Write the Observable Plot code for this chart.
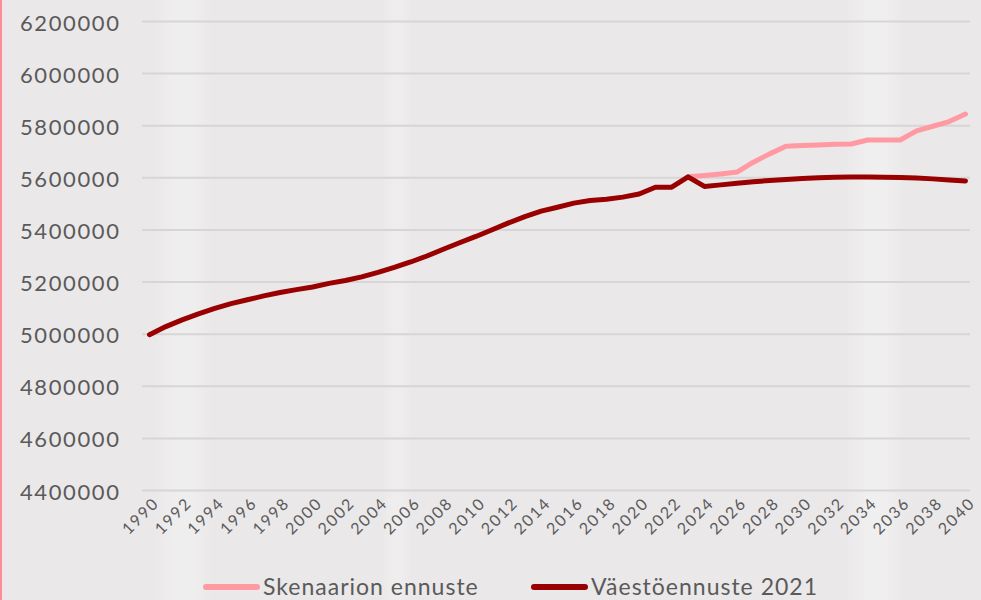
<!DOCTYPE html>
<html>
<head>
<meta charset="utf-8">
<script src="https://cdn.jsdelivr.net/npm/d3@7"></script>
<script src="https://cdn.jsdelivr.net/npm/@observablehq/plot@0.6"></script>
<style>
  html, body { margin: 0; padding: 0; }
  body {
    width: 981px; height: 600px; overflow: hidden; position: relative;
    font-family: Lato, "Open Sans", sans-serif;
    background:
      linear-gradient(90deg,
        rgba(255,255,255,0) 0px, rgba(255,255,255,0) 155px,
        rgba(255,255,255,0.25) 172px, rgba(255,255,255,0.25) 195px,
        rgba(255,255,255,0) 212px, rgba(255,255,255,0) 382px,
        rgba(255,255,255,0.22) 392px, rgba(255,255,255,0.22) 402px,
        rgba(255,255,255,0) 412px, rgba(255,255,255,0) 845px,
        rgba(255,255,255,0.3) 868px, rgba(255,255,255,0.3) 885px,
        rgba(255,255,255,0) 905px),
      #eae8e9;
  }
  #edge { position: absolute; left: 0; top: 0; width: 2px; height: 600px; background: #ff8d97; }
  #legend {
    position: absolute; left: 0; top: 555px; width: 981px; height: 45px;
    font-size: 23px; color: #5a5a5a; letter-spacing: 1px;
  }
  .item { position: absolute; top: 20px; display: flex; align-items: center; line-height: 1; }
  .item svg { margin-right: 3px; }
  g[aria-label="y-axis tick label"] text { letter-spacing: 1.6px; }
  g[aria-label="x-axis tick label"] text { letter-spacing: 1.8px; }
</style>
</head>
<body>
<div id="edge"></div>
<div id="chart"></div>
<div id="legend"></div>
<script>
const years = [1990,1991,1992,1993,1994,1995,1996,1997,1998,1999,2000,2001,2002,2003,2004,2005,2006,2007,2008,2009,2010,2011,2012,2013,2014,2015,2016,2017,2018,2019,2020,2021,2022,2023,2024,2025,2026,2027,2028,2029,2030,2031,2032,2033,2034,2035,2036,2037,2038,2039,2040];

// Väestöennuste 2021 (dark red), 1990–2040
const vaestoennuste = [4998000,5029000,5055000,5078000,5099000,5117000,5132000,5147000,5160000,5171000,5181000,5195000,5206000,5220000,5237000,5256000,5277000,5300000,5326000,5351000,5375000,5401000,5427000,5451000,5472000,5487000,5503000,5513000,5518000,5526000,5538000,5564000,5564000,5604000,5567000,5573000,5579000,5585000,5590000,5594000,5597000,5600000,5602000,5603000,5603000,5602000,5601000,5599000,5596000,5592000,5588000];

// Skenaarion ennuste (pink), 2023–2040
const skenaarioYears = [2023,2024,2025,2026,2027,2028,2029,2030,2031,2032,2033,2034,2035,2036,2037,2038,2039,2040];
const skenaario = [5604000,5609000,5615000,5622000,5660000,5692000,5721000,5724000,5726000,5729000,5730000,5745000,5745000,5745000,5780000,5798000,5816000,5845000];

const yTicks = [4400000,4600000,4800000,5000000,5200000,5400000,5600000,5800000,6000000,6200000];
const xTicks = [1990,1992,1994,1996,1998,2000,2002,2004,2006,2008,2010,2012,2014,2016,2018,2020,2022,2024,2026,2028,2030,2032,2034,2036,2038,2040];

const seriesNames = ["Skenaarion ennuste", "Väestöennuste 2021"];
const seriesColors = ["#ff9aa2", "#990000"];

const redData = years.map((y, i) => ({year: y, value: vaestoennuste[i]}));
const pinkData = skenaarioYears.map((y, i) => ({year: y, value: skenaario[i]}));

const chart = Plot.plot({
  width: 981,
  height: 555,
  marginLeft: 142,
  marginRight: 11,
  marginTop: 21,
  marginBottom: 65,
  style: {background: "transparent", fontFamily: "Lato, 'Open Sans', sans-serif", color: "#5a5a5a", overflow: "visible"},
  x: {domain: [1990, 2040], insetLeft: 7, insetRight: 5},
  y: {domain: [4400000, 6200000]},
  marks: [
    Plot.gridY(yTicks, {stroke: "#d7d5d6", strokeOpacity: 1, strokeWidth: 2}),
    Plot.axisY(yTicks, {tickSize: 0, tickPadding: 22, fontSize: 22, tickFormat: d => String(d), label: null, dy: 2, fill: "#5a5a5a"}),
    Plot.axisX(xTicks, {tickSize: 0, tickPadding: 10, tickRotate: -45, fontSize: 16, tickFormat: d => String(d), label: null, dx: 7, fill: "#5a5a5a"}),
    Plot.lineY(pinkData, {x: "year", y: "value", stroke: seriesColors[0], strokeWidth: 5, strokeLinecap: "round", strokeLinejoin: "round"}),
    Plot.lineY(redData, {x: "year", y: "value", stroke: seriesColors[1], strokeWidth: 5, strokeLinecap: "round", strokeLinejoin: "round"})
  ]
});
document.getElementById("chart").appendChild(chart);

const legend = document.getElementById("legend");
const lefts = [203, 531];
seriesNames.forEach((name, i) => {
  const item = document.createElement("div");
  item.className = "item";
  item.style.left = lefts[i] + "px";
  item.innerHTML = `<svg width="57" height="10"><line x1="3" y1="5" x2="54" y2="5" stroke="${seriesColors[i]}" stroke-width="6" stroke-linecap="round"/></svg><span>${name}</span>`;
  legend.appendChild(item);
});
</script>
</body>
</html>
